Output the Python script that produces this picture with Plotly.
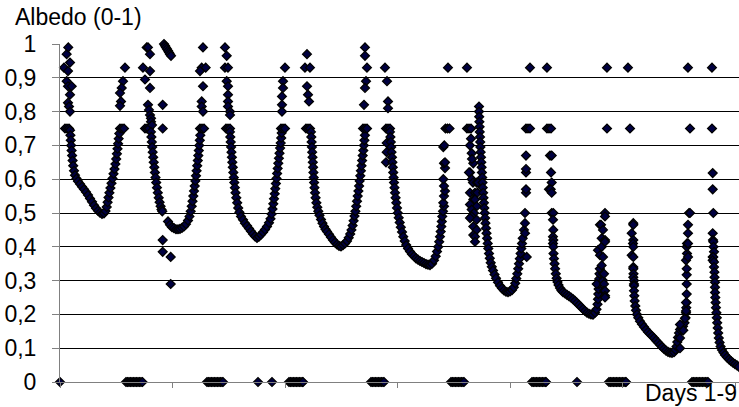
import plotly.graph_objects as go

# Albedo samples (x = sample index along the 9-day record, y = albedo 0-1)
day1 = [
    (0, 0),
    (4, 0.93), (6.7, 0.97), (6.7, 0.89), (8, 0.92), (8, 0.875), (8, 0.826), (8.3, 0.99), (9, 0.815),
    (10, 0.945), (10, 0.85), (10, 0.80), (11.7, 0.875),
    (5, 0.75), (7, 0.75), (9, 0.75),
    (10, 0.745), (10.4, 0.73), (10.8, 0.715), (11.2, 0.70), (11.6, 0.685), (12.1, 0.67), (12.6, 0.655),
    (13.2, 0.64), (14, 0.625), (15, 0.612), (16.5, 0.602), (18, 0.594), (20, 0.586), (22, 0.578),
    (24, 0.57), (26, 0.562), (28, 0.553), (30, 0.543), (32, 0.533), (34, 0.523), (36, 0.514),
    (38, 0.507), (40, 0.501), (42, 0.497), (44, 0.499), (45.5, 0.506), (46.7, 0.518), (47.6, 0.532),
    (48.5, 0.546), (49.4, 0.56), (50.4, 0.574), (51.5, 0.588), (52.5, 0.602), (53.5, 0.616),
    (54.5, 0.63), (55.4, 0.645), (56.2, 0.66), (56.9, 0.675), (57.5, 0.69), (58.1, 0.705),
    (58.7, 0.72), (59.3, 0.735),
    (60, 0.75), (62, 0.75), (64, 0.75),
    (65, 0.93), (63, 0.89), (61.7, 0.87), (60, 0.855), (61, 0.83), (60, 0.817),
]
night1 = [(66, 0), (67.5, 0), (69, 0), (70.5, 0), (72, 0), (73.5, 0), (75, 0), (76.5, 0),
          (78, 0), (79.5, 0), (81, 0), (82.5, 0)]

day2 = [
    (85, 0.75), (87, 0.75), (89, 0.75),
    (86.7, 0.99), (88, 0.99), (90, 0.97), (83, 0.93), (90, 0.92), (85, 0.895), (90, 0.87),
    (88, 0.82), (89, 0.805), (90, 0.79), (91, 0.78), (91, 0.77), (92, 0.76),
    (91, 0.74), (91.4, 0.725), (91.8, 0.71), (92.2, 0.695), (92.7, 0.68), (93.2, 0.665), (93.7, 0.65),
    (94.3, 0.635), (94.9, 0.62), (95.5, 0.605), (96.2, 0.59), (97, 0.575), (97.8, 0.56),
    (98.7, 0.545), (99.6, 0.532), (100.6, 0.52), (101.5, 0.51), (102.3, 0.505),
    (102.7, 0.82), (102.7, 0.75), (102.7, 0.42), (102.7, 0.385), (110.7, 0.37), (110.7, 0.29),
    (104, 1.0), (105, 0.995), (106, 0.99), (107, 0.985), (108, 0.98), (109, 0.975), (110, 0.97), (111, 0.965),
    (108, 0.475), (110, 0.465), (112, 0.458), (114, 0.455), (116, 0.452), (118, 0.452), (120, 0.453),
    (122, 0.456), (124, 0.46), (126, 0.467), (128, 0.478), (129.5, 0.49), (130.7, 0.505),
    (131.7, 0.52), (132.5, 0.535), (133.3, 0.55), (134, 0.565), (134.7, 0.58), (135.4, 0.595),
    (136, 0.61), (136.6, 0.625), (137.2, 0.64), (137.8, 0.655), (138.3, 0.67), (138.8, 0.685),
    (139.3, 0.70), (139.8, 0.715), (140.3, 0.73),
    (140, 0.75), (142, 0.75), (144, 0.75),
    (143, 0.99), (141.7, 0.93), (145.7, 0.93), (140, 0.92), (143, 0.875), (141.7, 0.83), (141.7, 0.815), (143, 0.80),
]
night2 = [(147, 0), (148.5, 0), (150, 0), (151.5, 0), (153, 0), (154.5, 0), (156, 0), (157.5, 0),
          (159, 0), (160.5, 0), (162, 0), (163, 0)]

day3 = [
    (166, 0.75), (168, 0.75), (170, 0.75),
    (165, 0.99), (166.7, 0.965), (165, 0.93), (168, 0.93), (166.7, 0.89), (168, 0.875), (168, 0.85),
    (168, 0.83), (168, 0.815), (170, 0.80), (170, 0.79),
    (170, 0.74), (170.3, 0.725), (170.7, 0.71), (171.1, 0.695), (171.5, 0.68), (171.9, 0.665),
    (172.3, 0.65), (172.8, 0.635), (173.3, 0.62), (173.8, 0.605), (174.3, 0.59), (174.9, 0.575),
    (175.5, 0.56), (176.3, 0.545), (177.2, 0.53), (178.2, 0.515), (179.4, 0.502), (181, 0.49),
    (183, 0.48), (185, 0.47), (187, 0.462), (189, 0.454), (191, 0.446), (193, 0.438), (195, 0.431),
    (197, 0.426), (199, 0.43), (201, 0.436), (203, 0.443), (205, 0.451), (207, 0.46), (209, 0.471),
    (210.5, 0.483), (211.6, 0.497), (212.5, 0.512), (213.3, 0.527), (214, 0.542), (214.7, 0.557),
    (215.3, 0.572), (215.9, 0.587), (216.5, 0.602), (217.1, 0.617), (217.7, 0.632), (218.3, 0.647),
    (218.9, 0.662), (219.5, 0.677), (220.1, 0.692), (220.7, 0.707), (221.2, 0.722), (221.7, 0.737),
    (221, 0.75), (223, 0.75), (225, 0.75),
    (225, 0.93), (223, 0.89), (223, 0.87), (222, 0.845), (222, 0.82), (222, 0.80),
]
night3 = [(198, 0), (212, 0), (229, 0), (230.5, 0), (232, 0), (233.5, 0), (235, 0), (236.5, 0),
          (238, 0), (239.5, 0), (241, 0), (242.5, 0), (243, 0)]

day4 = [
    (246, 0.75), (248, 0.75), (250, 0.75),
    (247, 0.97), (245, 0.93), (250, 0.93), (247, 0.875), (248, 0.85), (249, 0.83),
    (251, 0.74), (251.3, 0.725), (251.6, 0.71), (251.9, 0.695), (252.2, 0.68), (252.5, 0.665),
    (252.8, 0.65), (253.1, 0.635), (253.4, 0.62), (253.7, 0.605), (254.1, 0.59), (254.5, 0.575),
    (255, 0.56), (255.6, 0.545), (256.4, 0.53), (257.3, 0.517), (258.3, 0.505), (259.5, 0.493),
    (261, 0.481), (262.5, 0.47), (264, 0.46), (265.5, 0.452), (267, 0.445), (269, 0.437),
    (271, 0.428), (273, 0.42), (275, 0.413), (277, 0.407), (279, 0.403), (281, 0.401), (283, 0.405),
    (285, 0.41), (287, 0.417), (288.7, 0.427), (290.2, 0.438), (291.5, 0.45), (292.6, 0.463),
    (293.6, 0.477), (294.5, 0.491), (295.4, 0.505), (296.2, 0.52), (297, 0.535), (297.7, 0.55),
    (298.4, 0.565), (299.1, 0.58), (299.7, 0.595), (300.3, 0.61), (300.9, 0.625), (301.5, 0.64),
    (302.1, 0.655), (302.7, 0.67), (303.3, 0.685), (303.9, 0.70), (304.4, 0.715), (304.9, 0.73),
    (303, 0.75), (305, 0.75), (307, 0.75),
    (305, 0.99), (305, 0.965), (307, 0.93), (306, 0.89), (305, 0.87), (304, 0.82),
]
night4 = [(311, 0), (312.5, 0), (314, 0), (315.5, 0), (317, 0), (318.5, 0), (320, 0), (321.5, 0),
          (323, 0), (324, 0)]

day5 = [
    (326, 0.75), (328, 0.75), (330, 0.75),
    (325, 0.93), (327, 0.89), (328, 0.83), (328, 0.81), (326.7, 0.707), (326.7, 0.68), (326, 0.65),
    (330, 0.74), (330.4, 0.725), (330.8, 0.71), (331.2, 0.695), (331.6, 0.68), (332, 0.665),
    (332.4, 0.65), (332.8, 0.635), (333.2, 0.62), (333.6, 0.605), (334, 0.59), (334.5, 0.575),
    (335, 0.56), (335.6, 0.545), (336.3, 0.53), (337, 0.515), (337.8, 0.50), (338.7, 0.486),
    (339.7, 0.472), (340.8, 0.458), (342, 0.444), (343.3, 0.43), (344.7, 0.417), (346.2, 0.405),
    (348, 0.395), (350, 0.386), (352, 0.378), (354, 0.372), (356, 0.366), (358, 0.362), (360, 0.358),
    (362, 0.355), (364, 0.352), (366, 0.349), (368, 0.347), (370, 0.346), (372, 0.35), (374, 0.36),
    (375.7, 0.372), (377, 0.386), (378.2, 0.40), (379.2, 0.415), (380, 0.43), (380.7, 0.445),
    (381.3, 0.46), (381.8, 0.475), (382.3, 0.49),
    (383, 0.505), (384, 0.52), (383.3, 0.53), (384, 0.55), (385, 0.565), (384, 0.58), (383.3, 0.60),
    (385, 0.633), (384, 0.647), (385, 0.65), (383.3, 0.695), (384.3, 0.70),
    (385.5, 0.75), (387.5, 0.75), (389.5, 0.75),
    (388, 0.93),
]
night5 = [(391, 0), (392.5, 0), (394, 0), (395.5, 0), (397, 0), (398.5, 0), (400, 0), (401.5, 0),
          (403, 0), (404, 0)]

day6 = [
    (407, 0.75), (409, 0.75), (411, 0.75),
    (407, 0.93),
    (410, 0.70), (411, 0.72), (411.7, 0.677), (413.3, 0.647), (412, 0.66), (410, 0.62), (409, 0.62),
    (411.7, 0.60), (413, 0.59), (416.7, 0.59), (418, 0.59), (410, 0.56), (415, 0.56), (417.3, 0.56),
    (413.3, 0.54), (415, 0.54), (410, 0.525), (416.7, 0.52), (411.7, 0.51), (414, 0.50),
    (411.7, 0.49), (410, 0.485), (416.7, 0.48), (413.3, 0.46), (416.7, 0.45), (413.3, 0.435),
    (415, 0.43), (415, 0.415),
    (419, 0.815), (419, 0.80), (419.2, 0.785), (419.4, 0.77), (419.6, 0.755), (419.8, 0.74),
    (420, 0.725), (420.2, 0.71), (420.4, 0.695), (420.7, 0.68), (421, 0.665), (421.3, 0.65),
    (421.6, 0.635), (421.9, 0.62), (422.2, 0.605), (422.5, 0.59), (422.8, 0.575), (423.1, 0.56),
    (423.5, 0.545), (423.9, 0.53), (424.3, 0.515), (424.7, 0.50), (425.1, 0.485), (425.5, 0.47),
    (426, 0.455), (426.5, 0.44), (427.1, 0.425), (427.7, 0.41), (428.3, 0.395), (429, 0.38),
    (429.8, 0.366), (430.7, 0.353), (431.8, 0.341), (433, 0.33), (434.5, 0.318), (436, 0.307),
    (438, 0.295), (440, 0.285), (442, 0.277), (444, 0.271), (446, 0.267), (448, 0.266), (450, 0.268),
    (452, 0.272), (453.8, 0.28), (455.2, 0.292), (456.3, 0.306), (457.3, 0.32), (458.2, 0.335),
    (459, 0.35), (459.8, 0.365), (460.6, 0.38), (461.3, 0.395), (462, 0.41),
    (462.7, 0.425), (464, 0.45), (465, 0.44), (465, 0.47), (465, 0.50), (466, 0.56), (466, 0.57),
    (466, 0.62), (466, 0.63), (466, 0.67), (466.7, 0.37),
    (466, 0.75), (468, 0.75), (470, 0.75),
    (470, 0.93),
]
night6 = [(472, 0), (473.5, 0), (475, 0), (476.5, 0), (478, 0), (479.5, 0), (481, 0), (482.5, 0),
          (484, 0), (485.5, 0), (486, 0)]

day7 = [
    (487, 0.75), (489, 0.75), (491, 0.75),
    (487, 0.93),
    (490, 0.67), (491.7, 0.67), (491, 0.62), (491.7, 0.59), (489, 0.57), (490.7, 0.57), (491.7, 0.56),
    (491.7, 0.50), (493.3, 0.50), (493, 0.48), (493.3, 0.45), (493, 0.43), (493.3, 0.42),
    (493, 0.41), (493.3, 0.40),
    (493.5, 0.38), (494, 0.365), (494.5, 0.35), (495.1, 0.335), (495.8, 0.32), (496.6, 0.307),
    (497.5, 0.296), (498.5, 0.287), (500, 0.278), (501.5, 0.271), (503, 0.266), (505, 0.262),
    (507, 0.258), (509, 0.254), (511, 0.25), (513, 0.245), (515, 0.24), (517, 0.234), (519, 0.228),
    (521, 0.222), (523, 0.216), (525, 0.21), (527, 0.205), (529, 0.202), (531, 0.2), (533, 0.199),
    (535, 0.205), (536.5, 0.215), (537.5, 0.23), (538, 0.245), (538.3, 0.26), (538.6, 0.275),
    (538.9, 0.29), (539.2, 0.305), (539.5, 0.32), (539.8, 0.335),
    (536.7, 0.29), (538, 0.39), (540, 0.375), (540, 0.465), (541, 0.465), (541.7, 0.425),
    (541.7, 0.40), (541.7, 0.345), (543, 0.45), (543, 0.37), (543, 0.32), (543, 0.30),
    (544, 0.32), (544, 0.29), (544, 0.27), (545, 0.50), (545, 0.49), (545, 0.42), (545, 0.415),
    (545, 0.27), (545, 0.255), (545, 0.25),
    (547, 0.75), (547, 0.93),
]
night7 = [(517, 0), (549, 0), (550.5, 0), (552, 0), (553.5, 0), (555, 0), (556.5, 0), (558, 0),
          (559.5, 0), (561, 0), (562.5, 0), (564, 0), (565.5, 0), (566, 0)]

day8 = [
    (570, 0.75), (568, 0.93),
    (573.3, 0.47), (573.3, 0.465), (571.7, 0.44), (573.3, 0.42), (573, 0.41), (573.3, 0.40),
    (571.7, 0.375), (573.3, 0.37), (573.3, 0.34), (573.3, 0.335), (573.5, 0.32), (573.3, 0.31),
    (574, 0.30), (574, 0.29), (574, 0.285),
    (574, 0.27), (574.3, 0.255), (574.7, 0.24), (575.3, 0.225), (576, 0.212), (577, 0.2),
    (578.3, 0.19), (580, 0.18), (582, 0.171), (584, 0.163), (586, 0.155), (588, 0.148), (590, 0.142),
    (592, 0.136), (594, 0.13), (596, 0.123), (598, 0.117), (600, 0.11), (602, 0.104), (604, 0.098),
    (606, 0.093), (608, 0.089), (610, 0.087), (612, 0.086), (614, 0.088), (615.5, 0.095),
    (616.5, 0.105), (617.3, 0.118), (618, 0.132), (619, 0.145), (620, 0.155), (621.5, 0.16),
    (623, 0.165), (624.5, 0.175), (625.5, 0.19), (626, 0.205), (626.3, 0.22), (626.6, 0.235),
    (620, 0.10), (620, 0.13), (623.3, 0.153), (620, 0.17), (625, 0.188), (626, 0.21), (626, 0.235),
    (626.7, 0.26), (626.7, 0.29), (626.7, 0.317), (626.7, 0.335), (626, 0.36), (627, 0.38),
    (628, 0.37), (626.7, 0.40), (627, 0.41), (628, 0.41), (628, 0.44), (628, 0.465), (629, 0.50),
    (630, 0.50),
    (630, 0.75), (628, 0.93),
]
night8 = [(632, 0), (633.5, 0), (635, 0), (636.5, 0), (638, 0), (639.5, 0), (641, 0), (642.5, 0),
          (644, 0), (645.5, 0), (647, 0), (648, 0)]

day9 = [
    (652, 0.75), (652, 0.93),
    (652.7, 0.618), (652.7, 0.57), (653.3, 0.50), (652.7, 0.44), (653, 0.42), (653.3, 0.415),
    (653.5, 0.40), (654, 0.385), (652.7, 0.37), (653.3, 0.37), (652.7, 0.36), (654, 0.355),
    (654, 0.34), (654.5, 0.325), (654.5, 0.31), (655, 0.295), (655, 0.28),
    (655, 0.265), (655.3, 0.25), (655.6, 0.235), (656, 0.22), (656.4, 0.205), (656.8, 0.19),
    (657.2, 0.175), (657.7, 0.16), (658.2, 0.145), (658.8, 0.13), (659.6, 0.117), (660.6, 0.105),
    (662, 0.095), (663.5, 0.087), (665, 0.08), (667, 0.073), (669, 0.067), (671, 0.062),
    (673, 0.057), (675, 0.053), (677, 0.049), (679, 0.045),
]

y_ticks = [0, 0.1, 0.2, 0.3, 0.4, 0.5, 0.6, 0.7, 0.8, 0.9, 1]
y_title = "Albedo (0-1)"
x_title = "Days 1-9"

series = (day1 + night1 + day2 + night2 + day3 + night3 + day4 + night4 + day5 + night5
          + day6 + night6 + day7 + night7 + day8 + night8 + day9)
xs = [p[0] for p in series]
ys = [p[1] for p in series]

FONT = "Liberation Sans, Arial, sans-serif"

fig = go.Figure()
fig.add_trace(go.Scatter(
    x=xs, y=ys, mode="markers",
    marker=dict(symbol="diamond", size=6.8, color="#000040",
                line=dict(color="#000000", width=1.3)),
    cliponaxis=False, showlegend=False, hoverinfo="skip",
))

fig.update_layout(
    width=739, height=407,
    margin=dict(l=60, r=0, t=44, b=25),
    paper_bgcolor="white", plot_bgcolor="white",
    separators=",.",
    font=dict(family=FONT, size=23, color="black"),
    xaxis=dict(range=[0, 679], showgrid=False, zeroline=False, showline=True,
               linecolor="#808080", linewidth=1, ticks="outside", ticklen=5,
               tickcolor="#808080", tick0=0, dtick=112.5, showticklabels=False),
    yaxis=dict(range=[0, 1], tickvals=y_ticks, showgrid=True, gridcolor="#000000",
               gridwidth=1, zeroline=False, showline=True, linecolor="#808080",
               linewidth=1, ticks="outside", ticklen=7, tickcolor="#808080",
               tickfont=dict(family=FONT, size=23, color="black"),
               ticklabelstandoff=11),
    annotations=[
        dict(text=y_title, xref="paper", yref="paper", x=(13 - 60) / 679, y=(382 - 17) / 338,
             xanchor="left", yanchor="middle", showarrow=False,
             font=dict(family=FONT, size=23, color="black")),
        dict(text=x_title, xref="paper", yref="paper", x=1.0, y=(382 - 393) / 338,
             xanchor="right", yanchor="middle", showarrow=False,
             font=dict(family=FONT, size=23, color="black")),
    ],
)

fig.write_html("out.html")
